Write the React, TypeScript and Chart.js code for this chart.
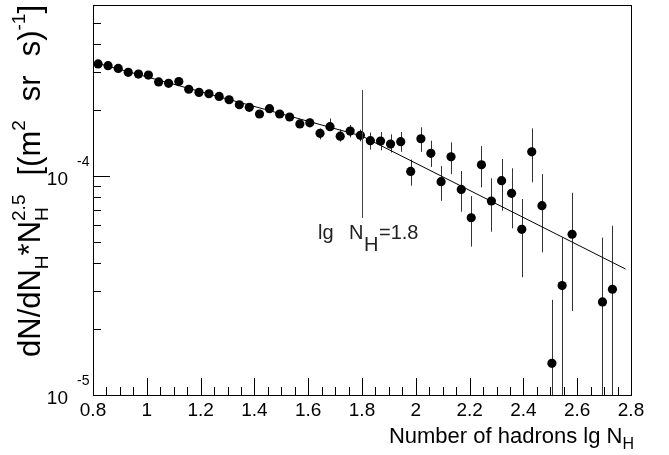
import React, { useEffect, useRef } from "react";
import { Chart, registerables } from "chart.js";

Chart.register(...registerables);

// ---- data ----
const lgNH = [
  0.819, 0.856, 0.894, 0.931, 0.969, 1.006, 1.044, 1.081, 1.119, 1.156,
  1.194, 1.231, 1.269, 1.306, 1.344, 1.381, 1.419, 1.456, 1.494, 1.531,
  1.569, 1.606, 1.644, 1.681, 1.719, 1.756, 1.794, 1.831, 1.869, 1.906,
  1.944, 1.981, 2.019, 2.056, 2.094, 2.131, 2.169, 2.206, 2.244, 2.281,
  2.319, 2.356, 2.394, 2.431, 2.469, 2.506, 2.544, 2.581, 2.694, 2.731,
];
const flux = [
  3.25e-4, 3.19e-4, 3.10e-4, 2.975e-4, 2.92e-4, 2.89e-4, 2.69e-4, 2.65e-4, 2.70e-4, 2.49e-4,
  2.41e-4, 2.375e-4, 2.31e-4, 2.23e-4, 2.116e-4, 2.06e-4, 1.92e-4, 2.03e-4, 1.92e-4, 1.86e-4,
  1.73e-4, 1.75e-4, 1.567e-4, 1.68e-4, 1.52e-4, 1.605e-4, 1.534e-4, 1.45e-4, 1.445e-4, 1.40e-4,
  1.435e-4, 1.05e-4, 1.48e-4, 1.27e-4, 9.42e-5, 1.225e-4, 8.69e-5, 6.45e-5, 1.126e-4, 7.69e-5,
  9.52e-5, 8.34e-5, 5.71e-5, 1.29e-4, 7.32e-5, 1.395e-5, 3.16e-5, 5.42e-5, 2.66e-5, 3.04e-5,
];
const fluxLow = [
  3.21e-4, 3.15e-4, 3.06e-4, 2.94e-4, 2.88e-4, 2.85e-4, 2.65e-4, 2.61e-4, 2.66e-4, 2.45e-4,
  2.37e-4, 2.33e-4, 2.27e-4, 2.18e-4, 2.07e-4, 2.01e-4, 1.87e-4, 1.97e-4, 1.86e-4, 1.80e-4,
  1.66e-4, 1.68e-4, 1.47e-4, 1.61e-4, 1.435e-4, 1.50e-4, 1.44e-4, 1.32e-4, 1.31e-4, 1.28e-4,
  1.29e-4, 9.03e-5, 1.29e-4, 1.10e-4, 7.71e-5, 1.02e-4, 6.87e-5, 4.76e-5, 8.88e-5, 5.57e-5,
  6.94e-5, 5.77e-5, 3.45e-5, 9.36e-5, 4.48e-5, 0, 0, 2.42e-5, 0, 0,
];
const fluxHigh = [
  3.29e-4, 3.23e-4, 3.14e-4, 3.01e-4, 2.96e-4, 2.93e-4, 2.73e-4, 2.69e-4, 2.74e-4, 2.53e-4,
  2.45e-4, 2.42e-4, 2.35e-4, 2.28e-4, 2.16e-4, 2.11e-4, 1.97e-4, 2.09e-4, 1.98e-4, 1.92e-4,
  1.80e-4, 1.83e-4, 1.65e-4, 1.83e-4, 1.63e-4, 1.71e-4, 1.63e-4, 1.58e-4, 1.59e-4, 1.55e-4,
  1.59e-4, 1.19e-4, 1.67e-4, 1.45e-4, 1.11e-4, 1.425e-4, 1.054e-4, 8.10e-5, 1.37e-4, 9.76e-5,
  1.196e-4, 1.084e-4, 7.85e-5, 1.65e-4, 1.021e-4, 2.72e-5, 5.23e-5, 8.39e-5, 5.23e-5, 5.93e-5,
];

const fitLgNH = [0.8, 1.8, 2.78];
const fitFlux = [3.315e-4, 1.522e-4, 3.76e-5];

const kneeLgNH = 1.8;
const kneeLineFlux = [2.47e-4, 6.43e-5];

const xMajorTicks = [0.8, 1.0, 1.2, 1.4, 1.6, 1.8, 2.0, 2.2, 2.4, 2.6, 2.8];
const xTickLabels = ["0.8", "1", "1.2", "1.4", "1.6", "1.8", "2", "2.2", "2.4", "2.6", "2.8"];
const xMinorTicks = [
  0.85, 0.9, 0.95, 1.05, 1.1, 1.15, 1.25, 1.3, 1.35, 1.45, 1.5, 1.55, 1.65, 1.7, 1.75,
  1.85, 1.9, 1.95, 2.05, 2.1, 2.15, 2.25, 2.3, 2.35, 2.45, 2.5, 2.55, 2.65, 2.7, 2.75,
];
const yMajorTicks = [1e-5, 1e-4];
const yTickExponents = ["-5", "-4"];
const yMinorTicks = [2e-5, 3e-5, 4e-5, 5e-5, 6e-5, 7e-5, 8e-5, 9e-5, 2e-4, 3e-4, 4e-4, 5e-4];

const X_MIN = 0.8;
const X_MAX = 2.8;
const Y_MIN = 1e-5;
const Y_MAX = 6.04e-4;

const FONT = '"Liberation Sans", Arial, Helvetica, sans-serif';

type Seg = { t: string; size: number; dy: number; stack?: boolean; flex?: boolean };

function layoutSegs(ctx: CanvasRenderingContext2D, segs: Seg[], extra = 0) {
  let cursor = 0;
  let prevStart = 0;
  let prevW = 0;
  const items: (Seg & { x: number })[] = [];
  segs.forEach((s) => {
    ctx.font = `${s.size}px ${FONT}`;
    const w = ctx.measureText(s.t).width;
    if (s.stack) {
      items.push({ ...s, x: prevStart });
      prevW = Math.max(prevW, w);
      cursor = prevStart + prevW;
    } else {
      cursor += s.flex ? extra : 0;
      items.push({ ...s, x: cursor });
      prevStart = cursor;
      prevW = w;
      cursor += w;
    }
  });
  return { items, width: cursor };
}

function drawSegs(
  ctx: CanvasRenderingContext2D,
  segs: Seg[],
  x: number,
  y: number,
  align: "left" | "right",
  targetWidth?: number
) {
  let lay = layoutSegs(ctx, segs);
  const n = segs.filter((s) => s.flex).length;
  if (targetWidth && n > 0 && lay.width < targetWidth) {
    lay = layoutSegs(ctx, segs, (targetWidth - lay.width) / n);
  }
  const { items, width } = lay;
  const x0 = align === "right" ? x - width : x;
  ctx.textAlign = "left";
  ctx.textBaseline = "alphabetic";
  for (const it of items) {
    ctx.font = `${it.size}px ${FONT}`;
    ctx.fillText(it.t, x0 + it.x, y + it.dy);
  }
}

const rootStyle = {
  id: "rootStyle",
  beforeDatasetsDraw(chart: any) {
    const { ctx, chartArea } = chart;
    const xs = chart.scales.x;
    const ys = chart.scales.y;
    ctx.save();
    ctx.beginPath();
    ctx.rect(chartArea.left, chartArea.top, chartArea.right - chartArea.left, chartArea.bottom - chartArea.top);
    ctx.clip();
    ctx.strokeStyle = "#333";
    ctx.lineWidth = 1;
    for (let i = 0; i < lgNH.length; i++) {
      const px = Math.round(xs.getPixelForValue(lgNH[i])) + 0.5;
      const top = ys.getPixelForValue(fluxHigh[i]);
      const bot = fluxLow[i] > 0 ? ys.getPixelForValue(fluxLow[i]) : chartArea.bottom + 2;
      ctx.beginPath();
      ctx.moveTo(px, Math.max(top, chartArea.top));
      ctx.lineTo(px, Math.min(bot, chartArea.bottom));
      ctx.stroke();
    }
    ctx.restore();
  },
  afterDatasetsDraw(chart: any) {
    const { ctx, chartArea } = chart;
    const xs = chart.scales.x;
    const ys = chart.scales.y;
    const { left, right, top, bottom } = chartArea;
    ctx.save();
    ctx.strokeStyle = "#000";
    ctx.fillStyle = "#000";
    ctx.lineWidth = 1;
    // frame
    ctx.strokeRect(left + 0.5, top + 0.5, right - left, bottom - top);

    // ticks (inward, ROOT style)
    const MAJ = 17;
    const MIN = 8;
    ctx.beginPath();
    for (const v of xMajorTicks) {
      const px = Math.round(xs.getPixelForValue(v)) + 0.5;
      ctx.moveTo(px, bottom);
      ctx.lineTo(px, bottom - MAJ);
    }
    for (const v of xMinorTicks) {
      const px = Math.round(xs.getPixelForValue(v)) + 0.5;
      ctx.moveTo(px, bottom);
      ctx.lineTo(px, bottom - MIN);
    }
    for (const v of yMajorTicks) {
      const py = Math.round(ys.getPixelForValue(v)) + 0.5;
      ctx.moveTo(left, py);
      ctx.lineTo(left + MAJ, py);
    }
    for (const v of yMinorTicks) {
      const py = Math.round(ys.getPixelForValue(v)) + 0.5;
      ctx.moveTo(left, py);
      ctx.lineTo(left + MIN, py);
    }
    ctx.stroke();

    // x tick labels
    ctx.font = `19px ${FONT}`;
    ctx.textAlign = "center";
    ctx.textBaseline = "alphabetic";
    xMajorTicks.forEach((v, i) => {
      ctx.fillText(xTickLabels[i], xs.getPixelForValue(v), bottom + 21);
    });

    // y tick labels 10^n
    yMajorTicks.forEach((v, i) => {
      const py = ys.getPixelForValue(v);
      ctx.font = `19px ${FONT}`;
      ctx.textAlign = "right";
      ctx.fillText("10", left - 25, py + 8.5);
      ctx.font = `14px ${FONT}`;
      ctx.textAlign = "left";
      ctx.fillText(yTickExponents[i], left - 16, py - 10);
    });

    // x title
    drawSegs(
      ctx,
      [
        { t: "Number of hadrons lg N", size: 22, dy: 0 },
        { t: "H", size: 16, dy: 6 },
      ],
      634,
      443,
      "right"
    );

    // y title (rotated)
    ctx.save();
    ctx.translate(40, 357);
    ctx.rotate(-Math.PI / 2);
    drawSegs(
      ctx,
      [
        { t: "dN/dN", size: 31, dy: 0 },
        { t: "H", size: 19, dy: 8 },
        { t: "*N", size: 31, dy: 0 },
        { t: "H", size: 19, dy: 8 },
        { t: "2.5", size: 19, dy: -15, stack: true },
        { t: " [(m", size: 31, dy: 0, flex: true },
        { t: "2", size: 19, dy: -15 },
        { t: " sr", size: 31, dy: 0, flex: true },
        { t: " s)", size: 31, dy: 0, flex: true },
        { t: "-1", size: 19, dy: -15 },
        { t: "]", size: 31, dy: 0 },
      ],
      0,
      0,
      "left",
      352
    );
    ctx.restore();

    // knee annotation
    const kx = xs.getPixelForValue(kneeLgNH);
    ctx.strokeStyle = "#444";
    ctx.beginPath();
    ctx.moveTo(Math.round(kx) + 0.5, ys.getPixelForValue(kneeLineFlux[0]));
    ctx.lineTo(Math.round(kx) + 0.5, ys.getPixelForValue(kneeLineFlux[1]));
    ctx.stroke();
    ctx.fillStyle = "#222";
    ctx.textAlign = "left";
    const ax = kx - 44;
    const ay = 239;
    ctx.font = `20px ${FONT}`;
    ctx.fillText("lg", ax, ay);
    ctx.fillText("N", ax + 31, ay);
    ctx.fillText("H", ax + 46, ay + 12);
    ctx.fillText("=1.8", ax + 61, ay);
    ctx.restore();
  },
};

export default function App() {
  const ref = useRef<HTMLCanvasElement | null>(null);
  useEffect(() => {
    if (!ref.current) return;
    const chart = new Chart(ref.current, {
      type: "scatter",
      data: {
        datasets: [
          {
            label: "data",
            data: lgNH.map((x, i) => ({ x, y: flux[i] })),
            pointRadius: 4.6,
            pointBackgroundColor: "#000",
            pointBorderColor: "#000",
            pointBorderWidth: 0,
            showLine: false,
          },
          {
            label: "fit",
            data: fitLgNH.map((x, i) => ({ x, y: fitFlux[i] })),
            showLine: true,
            borderColor: "#000",
            borderWidth: 1,
            pointRadius: 0,
            fill: false,
          },
        ],
      },
      options: {
        responsive: false,
        animation: false,
        devicePixelRatio: 1,
        events: [],
        layout: { padding: { left: 93, right: 38, top: 5, bottom: 60 } },
        plugins: { legend: { display: false }, tooltip: { enabled: false } },
        scales: {
          x: { type: "linear", min: X_MIN, max: X_MAX, display: false },
          y: { type: "logarithmic", min: Y_MIN, max: Y_MAX, display: false },
        },
      },
      plugins: [rootStyle],
    } as any);
    return () => chart.destroy();
  }, []);
  return (
    <div style={{ position: "fixed", left: 0, top: 0, width: 669, height: 455, background: "#fff" }}>
      <canvas ref={ref} width={669} height={455} style={{ display: "block", width: 669, height: 455 }} />
    </div>
  );
}
